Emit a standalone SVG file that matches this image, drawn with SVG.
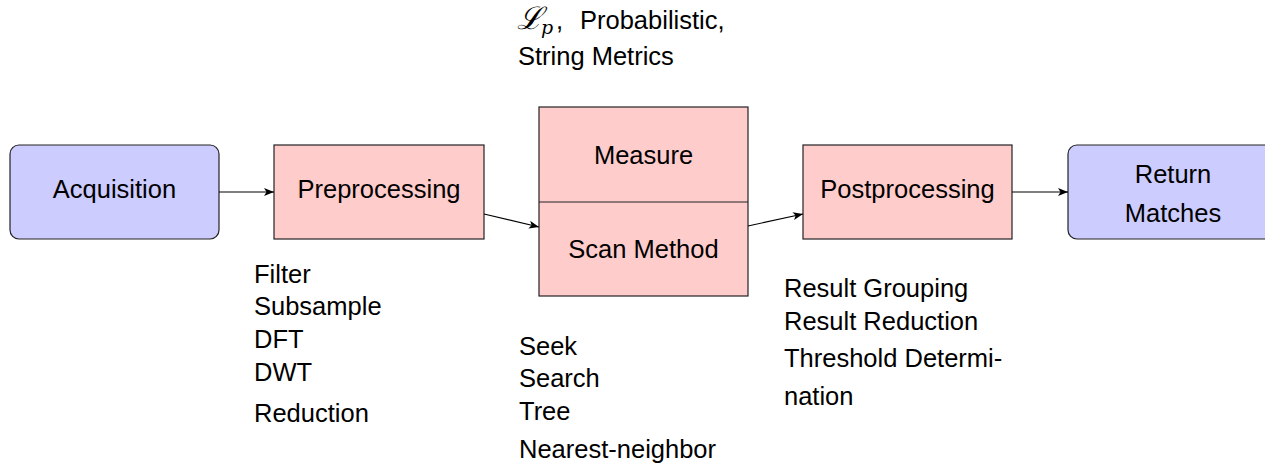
<svg xmlns="http://www.w3.org/2000/svg" width="1265" height="467" viewBox="0 0 1265 467">
<defs>
<style>
.t{font-family:"Liberation Sans",Arial,sans-serif;font-size:25.5px;fill:#000}
.c{text-anchor:middle}
.m{font-family:"DejaVu Serif",serif;font-style:italic}
.blue{fill:#ccccff;stroke:#222;stroke-width:1.2}
.pink{fill:#ffcccc;stroke:#222;stroke-width:1.2}
.edge{stroke:#000;stroke-width:1.2;fill:none;marker-end:url(#ah)}
</style>
<marker id="ah" viewBox="0 0 10 8" refX="10" refY="4" markerWidth="10" markerHeight="8" markerUnits="userSpaceOnUse" orient="auto">
<path d="M0,0 L10,4 L0,8 L2.5,4 Z" fill="#000"/>
</marker>
</defs>
<rect width="1265" height="467" fill="#fff"/>
<g id="acquisition">
<rect class="blue" x="10" y="145" width="209" height="94" rx="9"/>
<text class="t c" x="114.5" y="198">Acquisition</text>
</g>
<g id="preprocessing">
<rect class="pink" x="274" y="145" width="210" height="94"/>
<text class="t c" x="379" y="198">Preprocessing</text>
</g>
<g id="measure-scan">
<rect class="pink" x="539" y="107" width="209" height="189"/>
<line x1="539" y1="202" x2="748" y2="202" stroke="#222" stroke-width="1.2"/>
<text class="t c" x="643.5" y="164">Measure</text>
<text class="t c" x="643.5" y="258">Scan Method</text>
</g>
<g id="postprocessing">
<rect class="pink" x="803" y="145" width="209" height="94"/>
<text class="t c" x="907.5" y="198">Postprocessing</text>
</g>
<g id="return-matches">
<rect class="blue" x="1068" y="145" width="210" height="94" rx="9"/>
<text class="t c" x="1173" y="183">Return</text>
<text class="t c" x="1173" y="222">Matches</text>
</g>
<g id="connectors">
<line class="edge" x1="219" y1="192" x2="274" y2="192"/>
<line class="edge" x1="484" y1="214" x2="539" y2="227"/>
<line class="edge" x1="748" y1="226" x2="803" y2="214"/>
<line class="edge" x1="1012" y1="192" x2="1068" y2="192"/>
</g>
<g id="measure-label">
<text class="t" x="517" y="29"><tspan class="m" font-size="31">ℒ</tspan><tspan class="m" font-size="19" x="541" dy="5">p</tspan><tspan x="556" dy="-5">,</tspan><tspan x="580">Probabilistic,</tspan></text>
<text class="t" x="518" y="65">String Metrics</text>
</g>
<g id="preprocessing-label">
<text class="t" x="254" y="283">Filter</text>
<text class="t" x="254" y="315">Subsample</text>
<text class="t" x="254" y="348">DFT</text>
<text class="t" x="254" y="381">DWT</text>
<text class="t" x="254" y="422">Reduction</text>
</g>
<g id="scan-label">
<text class="t" x="519" y="355">Seek</text>
<text class="t" x="519" y="387">Search</text>
<text class="t" x="519" y="420">Tree</text>
<text class="t" x="519" y="458">Nearest-neighbor</text>
</g>
<g id="postprocessing-label">
<text class="t" x="784" y="297">Result Grouping</text>
<text class="t" x="784" y="330">Result Reduction</text>
<text class="t" x="784" y="367">Threshold Determi-</text>
<text class="t" x="784" y="405">nation</text>
</g>
</svg>
